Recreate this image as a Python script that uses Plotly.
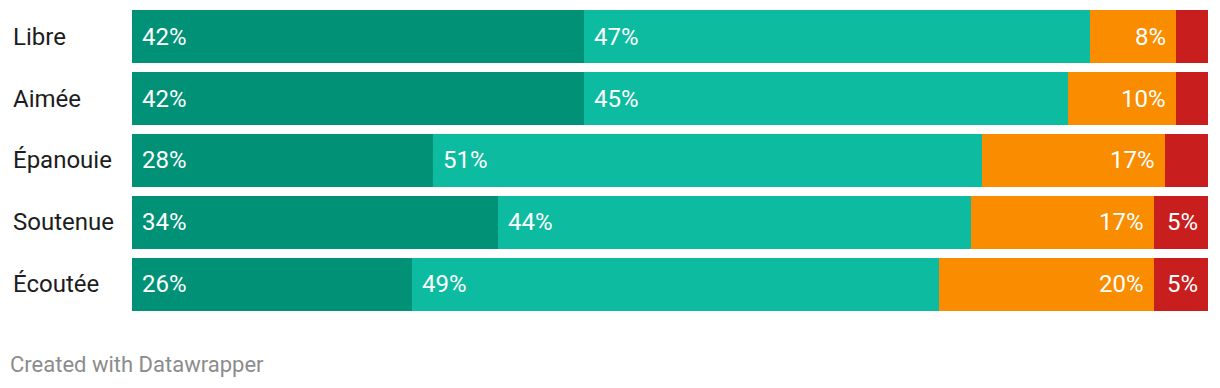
import plotly.graph_objects as go

categories = ["Libre", "Aimée", "Épanouie", "Soutenue", "Écoutée"]
series_names = ["Tout à fait", "Plutôt", "Plutôt pas", "Pas du tout"]
s1 = [42, 42, 28, 34, 26]
s2 = [47, 45, 51, 44, 49]
s3 = [8, 10, 17, 17, 20]
s4 = [3, 3, 4, 5, 5]
colors = ["#009176", "#0dbba0", "#fa8c00", "#c81e1e"]
series = [s1, s2, s3, s4]

W, H = 1220, 388
fig = go.Figure()
for name, vals, col in zip(series_names, series, colors):
    fig.add_trace(go.Bar(
        y=categories, x=vals, name=name, orientation="h",
        marker=dict(color=col, line=dict(width=0)),
        hoverinfo="skip",
    ))

annotations = []
for i, cat in enumerate(categories):
    annotations.append(dict(
        x=11 / W, xref="paper", y=cat, yref="y", text=cat, showarrow=False,
        xanchor="left", yanchor="middle",
        font=dict(family="Roboto", size=24, color="#1d1d1d"),
    ))
    start = 0
    for k, vals in enumerate(series):
        v = vals[i]
        if v >= 5:
            if k < 2:
                annotations.append(dict(
                    x=start, y=cat, xref="x", yref="y", text=f"{v}%",
                    showarrow=False, xanchor="left", yanchor="middle", xshift=8,
                    font=dict(family="Roboto", size=24, color="white"),
                ))
            else:
                annotations.append(dict(
                    x=start + v, y=cat, xref="x", yref="y", text=f"{v}%",
                    showarrow=False, xanchor="right", yanchor="middle", xshift=-8,
                    font=dict(family="Roboto", size=24, color="white"),
                ))
        start += v

annotations.append(dict(
    x=8 / W, y=1 - 364 / H, xref="paper", yref="paper",
    text="Created with Datawrapper", showarrow=False,
    xanchor="left", yanchor="middle",
    font=dict(family="Roboto", size=22, color="#8c8c8c"),
))

fig.update_layout(
    width=W, height=H, margin=dict(l=0, r=0, t=0, b=0),
    barmode="stack", bargap=0.137,
    plot_bgcolor="white", paper_bgcolor="white",
    showlegend=False,
    xaxis=dict(domain=[132 / W, 1208 / W], range=[0, 100], visible=False, fixedrange=True),
    yaxis=dict(domain=[1 - 315.25 / H, 1 - 5.75 / H], autorange="reversed",
               visible=False, fixedrange=True),
    annotations=annotations,
)
fig.write_html("out.html")
